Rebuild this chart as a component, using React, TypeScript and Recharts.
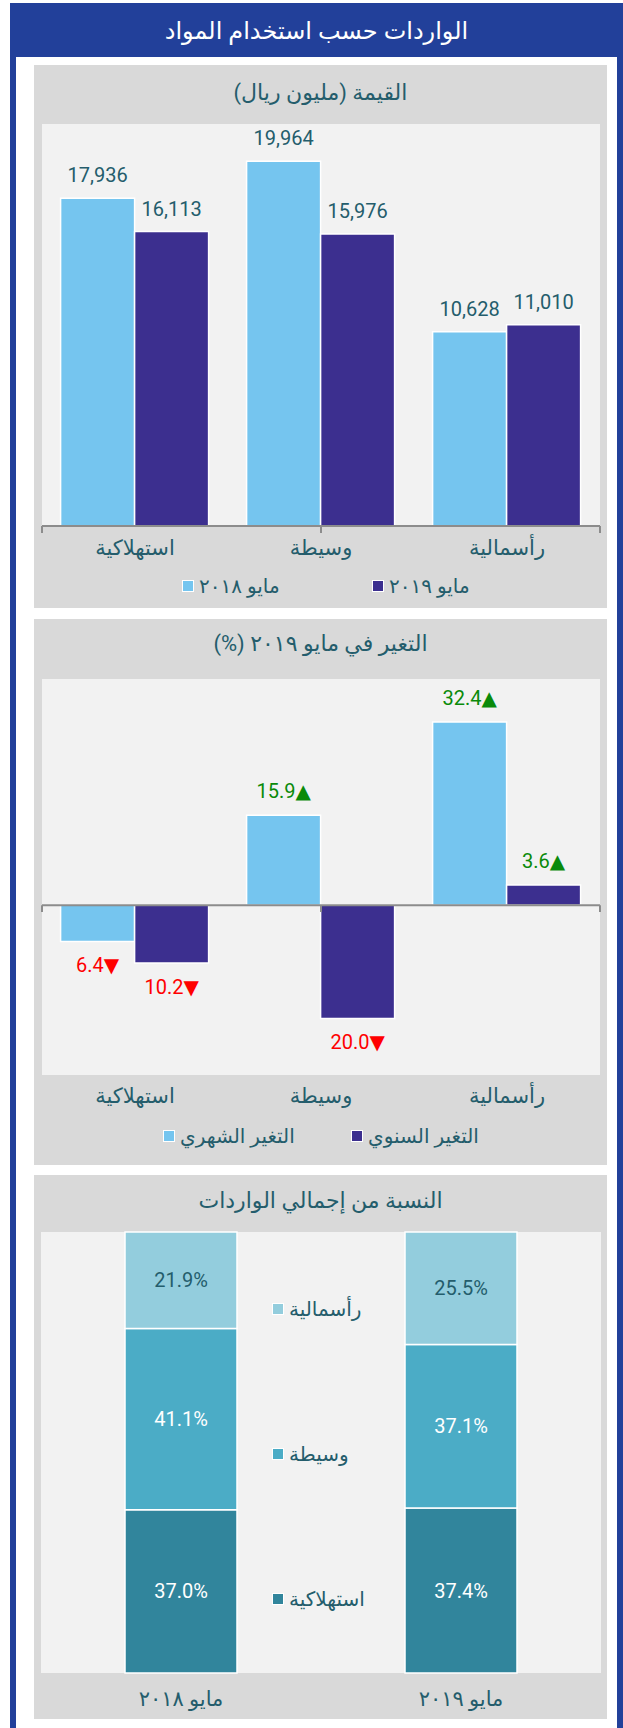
import { BarChart, Bar, XAxis, YAxis, CartesianGrid, LabelList, ReferenceLine } from "recharts"

const categories = ["استهلاكية", "وسيطة", "رأسمالية"]
const value2018 = [17936, 19964, 10628]
const value2019 = [16113, 15976, 11010]

const monthlyChange = [-6.4, 15.9, 32.4]
const yearlyChange = [-10.2, -20.0, 3.6]

const periods = ["مايو ٢٠١٨", "مايو ٢٠١٩"]
const shareConsumer = [37.0, 37.4]
const shareIntermediate = [41.1, 37.1]
const shareCapital = [21.9, 25.5]

const FONT = "Roboto, 'DejaVu Sans', sans-serif"
const TEAL = "#245d6c"
const LIGHT = "#75c5ef"
const DARK = "#3c2f8f"
const AXIS = "#8c8c8c"
const SHARE_COLORS = ["#31859c", "#4bacc6", "#93cddd"]

const valueData = categories.map((name, i) => ({ name, y2018: value2018[i], y2019: value2019[i] }))
const changeData = categories.map((name, i) => ({ name, monthly: monthlyChange[i], yearly: yearlyChange[i] }))
const shareData = periods.map((name, i) => ({
  name,
  consumer: shareConsumer[i],
  intermediate: shareIntermediate[i],
  capital: shareCapital[i],
}))
const edges = categories.map((_, i) => i).concat(categories.length)

const CatTick = (props: any) => {
  const { x, y, payload, dy } = props
  return (
    <text x={x} y={y} dy={dy} textAnchor="middle" dominantBaseline="central" direction="rtl"
      fill={TEAL} fontSize={21} fontFamily={FONT}>
      {payload.value}
    </text>
  )
}

const ValueLabel = (props: any) => {
  const { x, y, width, height, value } = props
  const top = Math.min(y, y + height)
  return (
    <text x={x + width / 2} y={top - 23} textAnchor="middle" dominantBaseline="central"
      fill={TEAL} fontSize={20} fontFamily={FONT}>
      {Number(value).toLocaleString("en-US")}
    </text>
  )
}

const ChangeLabel = (props: any) => {
  const { x, y, width, height, value } = props
  const top = Math.min(y, y + height)
  const bottom = Math.max(y, y + height)
  const up = value >= 0
  return (
    <text x={x + width / 2} y={up ? top - 24 : bottom + 24} textAnchor="middle" dominantBaseline="central"
      fill={up ? "#0a8a0a" : "#ff0000"} fontSize={20} fontFamily={FONT}>
      {Math.abs(value).toFixed(1) + (up ? "▲" : "▼")}
    </text>
  )
}

const shareLabel = (color: string) => (props: any) => {
  const { x, y, width, height, value } = props
  return (
    <text x={x + width / 2} y={y + height / 2} textAnchor="middle" dominantBaseline="central"
      fill={color} fontSize={20} fontFamily={FONT}>
      {Number(value).toFixed(1) + "%"}
    </text>
  )
}

function Marker({ color }: { color: string }) {
  return <span style={{ display: "inline-block", width: 10, height: 10, background: color, border: "1.5px solid #fff" }} />
}

function LegendItem({ label, color, style }: any) {
  return (
    <div style={{ display: "flex", alignItems: "center", gap: 5, lineHeight: "26px", fontFamily: FONT,
      fontSize: 20, color: TEAL, whiteSpace: "nowrap", ...style }}>
      <Marker color={color} />
      <span dir="rtl">{label}</span>
    </div>
  )
}

function Panel({ top, height, title, titleY, children }: any) {
  return (
    <div style={{ position: "absolute", left: 34, top, width: 573, height, background: "#d9d9d9" }}>
      <div dir="rtl" style={{ position: "absolute", top: titleY - 16, width: "100%", textAlign: "center",
        fontSize: 22, lineHeight: "32px", color: TEAL, fontFamily: FONT }}>{title}</div>
      {children}
    </div>
  )
}

export default function App() {
  return (
    <div>
      <style>{"body{margin:0}"}</style>
      <div style={{ position: "absolute", left: 10, top: 3, width: 613, height: 1730, background: "#22409a" }}>
        <div dir="rtl" style={{ height: 54, lineHeight: "56px", textAlign: "center", color: "#fff", fontSize: 24, fontFamily: FONT }}>
          الواردات حسب استخدام المواد
        </div>
      </div>
      <div style={{ position: "absolute", left: 16, top: 57, width: 601, height: 1680, background: "#fff" }} />

      <Panel top={65} height={543} title="القيمة (مليون ريال)" titleY={28}>
        <BarChart width={573} height={543} data={valueData} margin={{ top: 59, right: 7, left: 8, bottom: 52 }}
          barCategoryGap="10%" barGap={0}>
          <CartesianGrid fill="#f2f2f2" horizontal={false} vertical={false} />
          <XAxis dataKey="name" axisLine={false} tickLine={false} height={30} interval={0}
            tick={(p: any) => <CatTick {...p} dy={14} />} />
          <XAxis xAxisId="edges" type="number" domain={[0, categories.length]} allowDataOverflow hide />
          <YAxis hide domain={[0, 22000]} />
          <Bar dataKey="y2018" fill={LIGHT} stroke="#fff" strokeWidth={1.5} isAnimationActive={false}>
            <LabelList dataKey="y2018" content={ValueLabel} />
          </Bar>
          <Bar dataKey="y2019" fill={DARK} stroke="#fff" strokeWidth={1.5} isAnimationActive={false}>
            <LabelList dataKey="y2019" content={ValueLabel} />
          </Bar>
          <ReferenceLine y={0} stroke={AXIS} strokeWidth={2} />
          {edges.map((e) => (
            <ReferenceLine key={e} xAxisId="edges" segment={[{ x: e, y: 0 }, { x: e, y: -380 }]}
              stroke={AXIS} strokeWidth={2} ifOverflow="visible" />
          ))}
        </BarChart>
        <LegendItem label="مايو ٢٠١٨" color={LIGHT} style={{ position: "absolute", left: 148, top: 508 }} />
        <LegendItem label="مايو ٢٠١٩" color={DARK} style={{ position: "absolute", left: 338, top: 508 }} />
      </Panel>

      <Panel top={619} height={546} title="التغير في مايو ٢٠١٩ (%)" titleY={25}>
        <BarChart width={573} height={546} data={changeData} margin={{ top: 60, right: 7, left: 8, bottom: 60 }}
          barCategoryGap="10%" barGap={0}>
          <CartesianGrid fill="#f2f2f2" horizontal={false} vertical={false} />
          <XAxis dataKey="name" axisLine={false} tickLine={false} height={30} interval={0}
            tick={(p: any) => <CatTick {...p} dy={13} />} />
          <XAxis xAxisId="edges" type="number" domain={[0, categories.length]} allowDataOverflow hide />
          <YAxis hide domain={[-30, 40]} />
          <Bar dataKey="monthly" fill={LIGHT} stroke="#fff" strokeWidth={1.5} isAnimationActive={false}>
            <LabelList dataKey="monthly" content={ChangeLabel} />
          </Bar>
          <Bar dataKey="yearly" fill={DARK} stroke="#fff" strokeWidth={1.5} isAnimationActive={false}>
            <LabelList dataKey="yearly" content={ChangeLabel} />
          </Bar>
          <ReferenceLine y={0} stroke={AXIS} strokeWidth={2} />
          {edges.map((e) => (
            <ReferenceLine key={e} xAxisId="edges" segment={[{ x: e, y: 0 }, { x: e, y: -1.2 }]}
              stroke={AXIS} strokeWidth={2} ifOverflow="visible" />
          ))}
        </BarChart>
        <LegendItem label="التغير الشهري" color={LIGHT} style={{ position: "absolute", left: 129, top: 504 }} />
        <LegendItem label="التغير السنوي" color={DARK} style={{ position: "absolute", left: 317, top: 504 }} />
      </Panel>

      <Panel top={1175} height={544} title="النسبة من إجمالي الواردات" titleY={26}>
        <BarChart width={573} height={544} data={shareData} margin={{ top: 57, right: 6, left: 7, bottom: 16 }}
          barCategoryGap="30%">
          <CartesianGrid fill="#f2f2f2" horizontal={false} vertical={false} />
          <XAxis dataKey="name" axisLine={false} tickLine={false} height={30} interval={0}
            tick={(p: any) => <CatTick {...p} dy={18} />} />
          <YAxis hide domain={[0, 100]} />
          <Bar dataKey="consumer" stackId="s" fill={SHARE_COLORS[0]} stroke="#fff" strokeWidth={1.5} isAnimationActive={false}>
            <LabelList dataKey="consumer" content={shareLabel("#fff")} />
          </Bar>
          <Bar dataKey="intermediate" stackId="s" fill={SHARE_COLORS[1]} stroke="#fff" strokeWidth={1.5} isAnimationActive={false}>
            <LabelList dataKey="intermediate" content={shareLabel("#fff")} />
          </Bar>
          <Bar dataKey="capital" stackId="s" fill={SHARE_COLORS[2]} stroke="#fff" strokeWidth={1.5} isAnimationActive={false}>
            <LabelList dataKey="capital" content={shareLabel(TEAL)} />
          </Bar>
        </BarChart>
        <div style={{ position: "absolute", left: 238, top: 121, display: "flex", flexDirection: "column", gap: 119 }}>
          <LegendItem label="رأسمالية" color={SHARE_COLORS[2]} />
          <LegendItem label="وسيطة" color={SHARE_COLORS[1]} />
          <LegendItem label="استهلاكية" color={SHARE_COLORS[0]} />
        </div>
      </Panel>
    </div>
  )
}
